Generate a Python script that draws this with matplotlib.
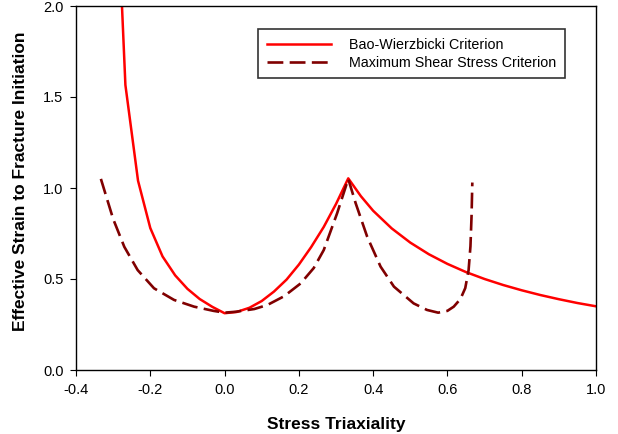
import numpy as np
import matplotlib
matplotlib.use('Agg')
import matplotlib.pyplot as plt

plt.rcParams.update({
    'font.family': ['Liberation Sans', 'DejaVu Sans'],
    'font.size': 10.5,
    'axes.unicode_minus': False,
    'axes.linewidth': 1.0,
    'xtick.direction': 'out',
    'ytick.direction': 'out',
})

# Bao-Wierzbicki criterion
bw_x = [-0.300, -0.267, -0.233, -0.200, -0.167, -0.133, -0.100, -0.067, -0.033, 0.000,
        0.033, 0.067, 0.100, 0.133, 0.167, 0.200, 0.233, 0.267, 0.300, 0.333,
        0.367, 0.400, 0.450, 0.500, 0.550, 0.600, 0.650, 0.700, 0.750, 0.800,
        0.850, 0.900, 0.950, 1.000]
bw_y = [3.12, 1.566, 1.040, 0.780, 0.624, 0.520, 0.446, 0.390, 0.347, 0.312,
        0.319, 0.342, 0.379, 0.431, 0.497, 0.579, 0.675, 0.786, 0.912, 1.053,
        0.955, 0.875, 0.778, 0.700, 0.636, 0.583, 0.538, 0.500, 0.467, 0.438,
        0.412, 0.389, 0.368, 0.350]

# Maximum shear stress criterion
ms_x = [-0.333, -0.300, -0.270, -0.234, -0.190, -0.136, -0.082, -0.030, 0.000, 0.030,
        0.080, 0.115, 0.160, 0.205, 0.240, 0.267, 0.303, 0.333, 0.353, 0.384,
        0.420, 0.456, 0.509, 0.545, 0.575, 0.600, 0.617, 0.635, 0.648, 0.657,
        0.662, 0.665, 0.667]
ms_y = [1.050, 0.830, 0.677, 0.549, 0.449, 0.385, 0.348, 0.325, 0.315, 0.320,
        0.335, 0.357, 0.405, 0.476, 0.560, 0.659, 0.861, 1.050, 0.916, 0.732,
        0.568, 0.458, 0.366, 0.330, 0.315, 0.325, 0.348, 0.390, 0.450, 0.549,
        0.680, 0.850, 1.030]

x_ticks = [-0.4, -0.2, 0.0, 0.2, 0.4, 0.6, 0.8, 1.0]
y_ticks = [0.0, 0.5, 1.0, 1.5, 2.0]

fig = plt.figure(figsize=(6.18, 4.34), dpi=100)
ax = fig.add_axes([76 / 618, 1 - 370 / 434, 520 / 618, 364 / 434])

ax.plot(bw_x, bw_y, color='#ff0000', lw=1.8, label='Bao-Wierzbicki Criterion')
ax.plot(ms_x, ms_y, color='#800000', lw=1.9, dashes=(6, 2.4),
        label='Maximum Shear Stress Criterion')

ax.set_xlim(-0.4, 1.0)
ax.set_ylim(0.0, 2.0)
ax.set_xticks(x_ticks)
ax.set_yticks(y_ticks)
ax.set_xticklabels([f'{v:.1f}' for v in x_ticks])
ax.set_yticklabels([f'{v:.1f}' for v in y_ticks])
ax.tick_params(top=False, right=False, length=4, width=0.8, pad=5)

ax.set_xlabel('Stress Triaxiality', fontsize=12.5, fontweight='bold', labelpad=15)
ax.set_ylabel('Effective Strain to Fracture Initiation', fontsize=12.5,
              fontweight='bold', va='center')
ax.yaxis.set_label_coords(-0.106, 0.519)

leg = ax.legend(loc='upper left', bbox_to_anchor=(0.350, 0.937), borderaxespad=0,
                fancybox=False, shadow=False, edgecolor='#333333', fontsize=10.3,
                handlelength=4.5, handletextpad=1.25, labelspacing=0.3,
                borderpad=0.6, framealpha=1)
leg.get_frame().set_linewidth(1.2)

fig.savefig('out.png', dpi=100)
